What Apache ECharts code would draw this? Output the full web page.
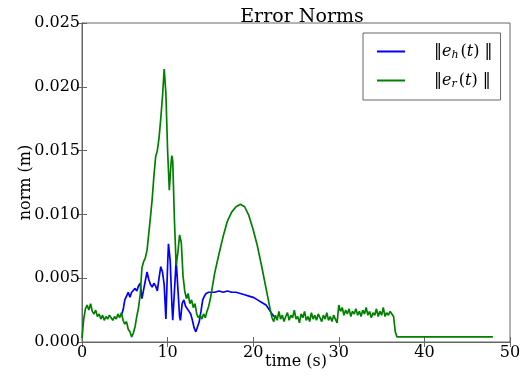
<!DOCTYPE html>
<html>
<head>
<meta charset="utf-8">
<script src="https://cdn.jsdelivr.net/npm/echarts@6/dist/echarts.min.js"></script>
<style>html,body{margin:0;padding:0;background:#fff}#c{width:527px;height:383px}</style>
</head>
<body>
<div id="c"></div>
<script>
// Data
const seriesNames = ['e_h', 'e_r'];
const xTicks = [0, 10, 20, 30, 40, 50];
const yTicks = [0.000, 0.005, 0.010, 0.015, 0.020, 0.025];

const greenT = [0.0,0.2,0.4,0.6,0.8,1.0,1.2,1.4,1.6,1.8,2.0,2.2,2.4,2.6,2.8,3.0,3.2,3.4,3.6,3.8,4.0,4.2,4.4,4.6,4.8,5.0,5.2,5.4,5.6,5.8,6.0,6.2,6.4,6.6,6.8,7.0,7.2,7.4,7.6,7.8,8.0,8.2,8.4,8.6,8.8,9.0,9.2,9.4,9.6,9.8,10.0,10.2,10.4,10.5,10.6,10.8,11.0,11.2,11.4,11.6,11.8,12.0,12.2,12.4,12.6,12.8,13.0,13.2,13.4,13.6,13.8,14.0,14.2,14.4,14.6,14.8,15.0,15.5,16.0,16.5,17.0,17.5,18.0,18.5,19.0,19.5,20.0,20.5,21.0,21.5,22.0,22.2,22.4,22.6,22.8,23.0,23.2,23.4,23.6,23.8,24.0,24.2,24.4,24.6,24.8,25.0,25.2,25.4,25.6,25.8,26.0,26.2,26.4,26.6,26.8,27.0,27.2,27.4,27.6,27.8,28.0,28.2,28.4,28.6,28.8,29.0,29.2,29.4,29.6,29.8,30.0,30.2,30.4,30.6,30.8,31.0,31.2,31.4,31.6,31.8,32.0,32.2,32.4,32.6,32.8,33.0,33.2,33.4,33.6,33.8,34.0,34.2,34.4,34.6,34.8,35.0,35.2,35.4,35.6,35.8,36.0,36.2,36.4,36.6,36.8,48.0];
const greenV = [0.0003,0.0018,0.0026,0.0029,0.0025,0.0030,0.0024,0.0022,0.0025,0.0020,0.0022,0.0018,0.0021,0.0017,0.0020,0.0018,0.0021,0.0019,0.0017,0.0020,0.0018,0.0022,0.0019,0.0023,0.0017,0.0014,0.0016,0.0010,0.0008,0.0004,0.0007,0.0012,0.0020,0.0027,0.0037,0.0058,0.0063,0.0066,0.0072,0.0085,0.0098,0.0112,0.0130,0.0145,0.0150,0.0160,0.0175,0.0192,0.0214,0.0195,0.0150,0.0119,0.0140,0.0146,0.0142,0.0095,0.0060,0.0070,0.0084,0.0078,0.0052,0.0040,0.0034,0.0038,0.0030,0.0033,0.0027,0.0030,0.0022,0.0019,0.0021,0.0018,0.0022,0.0019,0.0024,0.0028,0.0034,0.0054,0.0069,0.0083,0.0095,0.0102,0.0106,0.0108,0.0106,0.0099,0.0088,0.0075,0.0059,0.0042,0.0025,0.0019,0.0016,0.0021,0.0017,0.0024,0.0018,0.0021,0.0016,0.0020,0.0023,0.0017,0.0021,0.0019,0.0025,0.0018,0.0020,0.0015,0.0022,0.0019,0.0024,0.0017,0.0020,0.0016,0.0023,0.0018,0.0021,0.0017,0.0022,0.0019,0.0016,0.0021,0.0018,0.0023,0.0017,0.0020,0.0016,0.0021,0.0018,0.0015,0.0029,0.0024,0.0027,0.0021,0.0025,0.0022,0.0026,0.0020,0.0024,0.0022,0.0026,0.0021,0.0024,0.0020,0.0025,0.0022,0.0027,0.0021,0.0024,0.0019,0.0023,0.0021,0.0026,0.0020,0.0024,0.0021,0.0027,0.0020,0.0023,0.0021,0.0024,0.0022,0.0020,0.0008,0.0004,0.0004];

const blueT = [4.6,4.8,5.0,5.2,5.4,5.6,5.8,6.0,6.2,6.4,6.6,6.8,7.0,7.2,7.4,7.6,7.8,8.0,8.2,8.4,8.6,8.8,9.0,9.2,9.4,9.6,9.8,10.0,10.1,10.3,10.5,10.6,10.8,11.0,11.2,11.4,11.5,11.7,11.9,12.1,12.3,12.5,12.7,12.9,13.1,13.3,13.5,13.7,13.9,14.1,14.3,14.5,14.8,15.0,15.5,16.0,16.5,17.0,17.5,18.0,18.5,19.0,19.5,20.0,20.5,21.0,21.5,22.0,22.3,22.6];
const blueV = [0.0021,0.0025,0.0033,0.0036,0.0039,0.0035,0.0039,0.0040,0.0042,0.0040,0.0044,0.0046,0.0034,0.0041,0.0048,0.0055,0.0049,0.0045,0.0043,0.0046,0.0044,0.0040,0.0050,0.0059,0.0055,0.0045,0.0018,0.0060,0.0077,0.0064,0.0030,0.0017,0.0040,0.0064,0.0042,0.0020,0.0017,0.0030,0.0033,0.0028,0.0029,0.0024,0.0022,0.0017,0.0011,0.0008,0.0012,0.0016,0.0024,0.0033,0.0036,0.0038,0.0039,0.0040,0.0039,0.0040,0.0039,0.0040,0.0039,0.0039,0.0038,0.0037,0.0036,0.0035,0.0033,0.0031,0.0029,0.0024,0.0021,0.0019];

const FONT = 'DejaVu Serif';
const chart = echarts.init(document.getElementById('c'), null, {renderer: 'canvas'});
const zip = (a, b) => a.map((t, i) => [t, b[i]]);
const frame = '#666';
const tickStyle = {show: true, inside: true, length: 5, lineStyle: {color: frame, width: 1}};

chart.setOption({
  animation: false,
  backgroundColor: '#fff',
  title: {
    text: 'Error Norms', left: 297, top: 3, textAlign: 'center',
    textStyle: {fontFamily: FONT, fontSize: 19, fontWeight: 'normal', color: '#000'}
  },
  grid: {left: 82, right: 17, top: 23, bottom: 41, show: true, borderColor: frame, borderWidth: 1},
  legend: {
    orient: 'vertical', left: 363, top: 33, padding: [9, 8, 10, 14],
    borderColor: frame, borderWidth: 1, backgroundColor: '#fff',
    itemWidth: 28, itemHeight: 2, itemGap: 10, icon: 'rect',
    data: seriesNames,
    formatter: function (n) {
      const sub = n.split('_')[1];
      return '{n|‖}{i|e}{s|' + sub + '}{n|(}{i|t}{n|) ‖}';
    },
    textStyle: {
      padding: [0, 0, 0, 24],
      rich: {
        n: {fontFamily: FONT, fontSize: 16, color: '#000', lineHeight: 20},
        i: {fontFamily: FONT, fontSize: 16, fontStyle: 'italic', color: '#000', lineHeight: 20},
        s: {fontFamily: FONT, fontSize: 11, fontStyle: 'italic', color: '#000', lineHeight: 20, padding: [8, 2, 0, 0]}
      }
    }
  },
  xAxis: [{
    type: 'value', min: xTicks[0], max: xTicks[xTicks.length - 1], interval: 10,
    position: 'bottom',
    axisLine: {show: true, lineStyle: {color: frame}},
    axisTick: tickStyle, splitLine: {show: false},
    axisLabel: {fontFamily: FONT, fontSize: 16, color: '#000', margin: 3},
    name: 'time (s)', nameLocation: 'middle', nameGap: 20, nameMoveOverlap: false,
    nameTextStyle: {fontFamily: FONT, fontSize: 16, color: '#000', verticalAlign: 'middle'}
  }, {
    type: 'value', min: 0, max: 50, interval: 10, position: 'top',
    axisLine: {show: true, lineStyle: {color: frame}},
    axisTick: tickStyle, axisLabel: {show: false}, splitLine: {show: false}
  }],
  yAxis: [{
    type: 'value', min: yTicks[0], max: yTicks[yTicks.length - 1], interval: 0.005,
    position: 'left',
    axisLine: {show: true, lineStyle: {color: frame}},
    axisTick: tickStyle, splitLine: {show: false},
    axisLabel: {fontFamily: FONT, fontSize: 16, color: '#000', margin: 2, formatter: v => v.toFixed(3)},
    name: 'norm (m)', nameLocation: 'middle', nameGap: 48, nameRotate: 90, nameMoveOverlap: false,
    nameTextStyle: {fontFamily: FONT, fontSize: 16, color: '#000'}
  }, {
    type: 'value', min: 0, max: 0.025, interval: 0.005, position: 'right',
    axisLine: {show: true, lineStyle: {color: frame}},
    axisTick: tickStyle, axisLabel: {show: false}, splitLine: {show: false}
  }],
  series: [{
    name: seriesNames[0], type: 'line', data: zip(blueT, blueV), showSymbol: false,
    lineStyle: {color: '#0000ff', width: 1.7}, itemStyle: {color: '#0000ff'}, z: 2
  }, {
    name: seriesNames[1], type: 'line', data: zip(greenT, greenV), showSymbol: false,
    lineStyle: {color: '#008000', width: 1.7}, itemStyle: {color: '#008000'}, z: 3
  }]
});
</script>
</body>
</html>
